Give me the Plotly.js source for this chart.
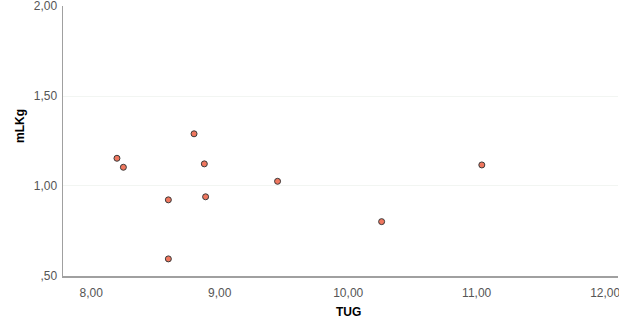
<!DOCTYPE html>
<html>
<head>
<meta charset="utf-8">
<script src="https://cdn.plot.ly/plotly-3.0.1.min.js"></script>
<style>html,body{margin:0;padding:0;background:#fff;}#chart{width:619px;height:320px;}</style>
</head>
<body>
<div id="chart"></div>
<script>
const tug = [8.20, 8.25, 8.60, 8.60, 8.80, 8.88, 8.89, 9.45, 10.26, 11.04];
const mlkg = [1.154, 1.104, 0.923, 0.595, 1.29, 1.123, 0.94, 1.026, 0.802, 1.117];
const xTickVals = [8, 9, 10, 11, 12];
const xTickText = ["8,00", "9,00", "10,00", "11,00", "12,00"];
const yTickVals = [0.5, 1.0, 1.5, 2.0];
const yTickText = [",50", "1,00", "1,50", "2,00"];

const trace = {
  x: tug, y: mlkg, type: 'scatter', mode: 'markers',
  marker: {size: 6, color: '#f0775f', line: {color: '#3a3a3a', width: 1}},
  hoverinfo: 'x+y'
};
const layout = {
  width: 619, height: 320,
  margin: {l: 63, r: 1, t: 6, b: 44},
  paper_bgcolor: '#fff', plot_bgcolor: '#fff',
  showlegend: false,
  font: {family: 'Liberation Sans, Arial, sans-serif', size: 12, color: '#555'},
  xaxis: {
    range: [7.78, 12.1], tickvals: xTickVals, ticktext: xTickText,
    showgrid: false, zeroline: false,
    showline: true, linecolor: '#a0a0a0', linewidth: 1.5,
    ticks: 'outside', ticklen: 5, tickcolor: 'rgba(0,0,0,0)',
    ticklabeloverflow: 'allow',
    tickfont: {size: 12, color: '#555'}
  },
  yaxis: {
    range: [0.4999, 2.0001], tickvals: yTickVals, ticktext: yTickText,
    showgrid: true, gridcolor: '#f2f5f2', gridwidth: 1,
    zeroline: false,
    showline: true, linecolor: '#a0a0a0', linewidth: 1.5,
    ticks: 'outside', ticklen: 2, tickcolor: 'rgba(0,0,0,0)',
    ticklabeloverflow: 'allow',
    tickfont: {size: 12, color: '#555'}
  },
  annotations: [
    {text: '<b>TUG</b>', xref: 'paper', yref: 'paper', x: (348-63)/555, y: -(312-276)/270,
     xanchor: 'center', yanchor: 'middle', showarrow: false,
     font: {family: 'Liberation Sans, Arial, sans-serif', size: 12, color: '#000'}},
    {text: '<b>mLKg</b>', xref: 'paper', yref: 'paper', x: -(63-20)/555, y: (276-126)/270,
     xanchor: 'center', yanchor: 'middle', textangle: -90, showarrow: false,
     font: {family: 'Liberation Sans, Arial, sans-serif', size: 12, color: '#000'}}
  ]
};
Plotly.newPlot('chart', [trace], layout, {displayModeBar: false, staticPlot: true});
</script>
</body>
</html>
